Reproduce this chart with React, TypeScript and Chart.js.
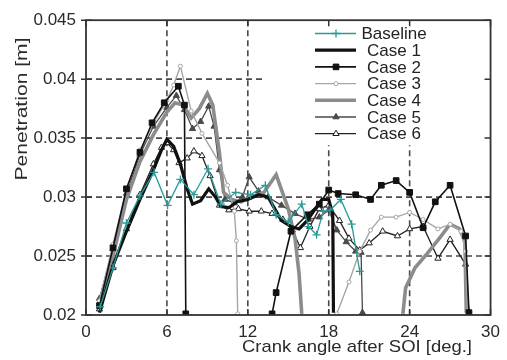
import React, { useEffect, useRef } from 'react';
import { Chart, registerables } from 'chart.js';
Chart.register(...registerables);

const FONT = '"Liberation Sans", Arial, Helvetica, sans-serif';

const seriesNames = ['Baseline', 'Case 1', 'Case 2', 'Case 3', 'Case 4', 'Case 5', 'Case 6'];
const xTickLabels = ['0', '6', '12', '18', '24', '30'];
const yTickLabels = ['0.02', '0.025', '0.03', '0.035', '0.04', '0.045'];
const xTitle = 'Crank angle after SOI [deg.]';
const yTitle = 'Penetration [m]';

const baselineX = [1.05, 2.0, 3.0, 4.0, 5.05, 6.05, 7.0, 8.0, 9.05, 10.0, 11.1, 12.2, 13.3, 14.1, 15.0, 16.0, 16.5, 17.1, 17.6, 18.1, 18.9, 19.7, 20.3];
const baselineY = [0.0207, 0.024, 0.0278, 0.0301, 0.0321, 0.0293, 0.0315, 0.0302, 0.0324, 0.0294, 0.0304, 0.0302, 0.031, 0.0285, 0.0279, 0.0294, 0.0275, 0.0268, 0.0288, 0.0289, 0.0298, 0.0277, 0.0237];

const case1X = [1.0, 1.5, 2.0, 3.0, 4.0, 5.0, 5.6, 6.0, 6.5, 7.0, 7.5, 7.9, 8.5, 9.1, 9.6, 10.0, 10.6, 11.2, 12.0, 12.8, 13.5, 14.0, 14.5, 15.2, 15.8, 16.4, 17.0, 17.5, 18.0, 18.3, 18.35];
const case1Y = [0.0202, 0.0222, 0.0242, 0.0271, 0.0298, 0.0323, 0.034, 0.0349, 0.0343, 0.0328, 0.0307, 0.0294, 0.0297, 0.0307, 0.03, 0.0292, 0.0291, 0.0296, 0.0298, 0.0302, 0.03, 0.029, 0.028, 0.0275, 0.0273, 0.028, 0.029, 0.0298, 0.0298, 0.0285, 0.0202];

const case2X = [1.0, 2.0, 3.0, 4.0, 4.9, 5.8, 6.85, 7.3, 7.4, 10.0, 13.8, 14.1, 15.2, 16.4, 17.3, 18.0, 18.7, 20.0, 21.1, 21.9, 23.0, 24.0, 25.0, 25.9, 27.0, 28.15, 28.4];
const case2Y = [0.0208, 0.0257, 0.0307, 0.0338, 0.0363, 0.038, 0.0394, 0.0378, 0.0201, null, 0.0201, 0.0219, 0.0271, 0.0285, 0.0294, 0.0306, 0.0303, 0.0302, 0.0298, 0.031, 0.0314, 0.0304, 0.0274, 0.0296, 0.031, 0.0267, 0.0202];

const case3X = [1.0, 2.0, 3.0, 4.0, 5.0, 6.0, 6.5, 7.0, 7.8, 8.6, 9.9, 10.5, 11.0, 11.15, 11.25, 15.0, 18.6, 19.5, 20.3, 21.1, 21.9, 23.0, 24.0, 25.0, 26.1, 27.0, 27.8, 28.15, 28.3];
const case3Y = [0.0212, 0.026, 0.0306, 0.034, 0.0363, 0.0382, 0.0395, 0.0411, 0.0373, 0.0354, 0.0329, 0.031, 0.0288, 0.0263, 0.0201, null, 0.0201, 0.0228, 0.0254, 0.0272, 0.0283, 0.0283, 0.0287, 0.0281, 0.0273, 0.0277, 0.0271, 0.0254, 0.0202];

const case4X = [1.0, 2.0, 3.0, 4.0, 5.0, 6.0, 6.6, 7.2, 7.8, 8.4, 9.0, 9.4, 9.9, 10.2, 10.8, 11.5, 12.2, 13.2, 14.1, 15.0, 15.5, 15.8, 16.0, 20.0, 23.5, 23.7, 24.4, 25.3, 26.2, 27.0, 27.7, 28.1, 28.2];
const case4Y = [0.021, 0.025, 0.0298, 0.033, 0.0353, 0.0372, 0.038, 0.0378, 0.0367, 0.0375, 0.0388, 0.0378, 0.0337, 0.0304, 0.0298, 0.0296, 0.03, 0.0304, 0.0319, 0.029, 0.0265, 0.0235, 0.0201, null, 0.0201, 0.0223, 0.024, 0.0252, 0.0265, 0.0277, 0.0273, 0.0262, 0.0202];

const case5X = [1.0, 2.0, 3.0, 4.0, 5.0, 6.0, 6.7, 7.3, 7.9, 8.5, 9.1, 9.5, 9.9, 10.3, 11.0, 11.6, 12.1, 12.8, 13.5, 14.5, 15.5, 16.5, 17.3, 18.0, 18.6, 19.3, 20.0, 20.4, 20.5];
const case5Y = [0.0214, 0.0256, 0.0303, 0.0336, 0.036, 0.0376, 0.0386, 0.0374, 0.0358, 0.0364, 0.0377, 0.036, 0.0323, 0.0298, 0.0295, 0.03, 0.0317, 0.0305, 0.03, 0.0293, 0.0286, 0.0281, 0.0283, 0.0289, 0.0272, 0.0262, 0.0254, 0.0253, 0.0202];

const case6X = [1.0, 2.0, 3.0, 4.0, 5.0, 5.6, 6.0, 6.5, 6.9, 7.5, 8.0, 8.6, 9.2, 9.9, 10.6, 11.3, 12.1, 13.0, 13.8, 14.6, 15.3, 15.9, 16.6, 17.3, 18.0, 18.8, 19.5, 20.3, 21.0, 22.0, 23.1, 24.0, 25.0, 26.1, 27.0, 28.15, 28.4];
const case6Y = [0.0205, 0.024, 0.0273, 0.0302, 0.0328, 0.0342, 0.0346, 0.034, 0.0329, 0.0333, 0.0339, 0.0335, 0.0318, 0.0293, 0.0289, 0.029, 0.0288, 0.0288, 0.0286, 0.0281, 0.0272, 0.0257, 0.0275, 0.029, 0.0293, 0.028, 0.0265, 0.0255, 0.0261, 0.0271, 0.0267, 0.0273, 0.0275, 0.0248, 0.0264, 0.0243, 0.0202];

const TEAL = '#2a9a98';

const mk = (xs: number[], ys: (number | null)[]) => xs.map((x, i) => ({ x, y: ys[i] }));

function drawMarker(ctx: CanvasRenderingContext2D, style: string, x: number, y: number, r: number, fill: string, stroke: string, lw: number) {
  ctx.save();
  ctx.setLineDash([]);
  ctx.lineWidth = lw;
  ctx.strokeStyle = stroke;
  ctx.fillStyle = fill;
  ctx.beginPath();
  if (style === 'cross') {
    ctx.moveTo(x - r, y); ctx.lineTo(x + r, y);
    ctx.moveTo(x, y - r); ctx.lineTo(x, y + r);
    ctx.stroke();
  } else if (style === 'rect') {
    const s = r * Math.SQRT1_2;
    ctx.rect(x - s, y - s, 2 * s, 2 * s);
    ctx.fill(); ctx.stroke();
  } else if (style === 'circle') {
    ctx.arc(x, y, r, 0, Math.PI * 2);
    ctx.fill(); ctx.stroke();
  } else if (style === 'triangle') {
    const side = (3 * r) / Math.sqrt(3);
    const h = (side * Math.sqrt(3)) / 2;
    ctx.moveTo(x - side / 2, y + h / 3);
    ctx.lineTo(x + side / 2, y + h / 3);
    ctx.lineTo(x, y - (2 * h) / 3);
    ctx.closePath();
    ctx.fill(); ctx.stroke();
  }
  ctx.restore();
}

function stretchedText(ctx: CanvasRenderingContext2D, text: string, cx: number, cy: number, targetLen: number, rotate: boolean) {
  ctx.save();
  ctx.font = `17px ${FONT}`;
  ctx.fillStyle = '#2a2a2a';
  ctx.textAlign = 'center';
  ctx.textBaseline = 'middle';
  const w = ctx.measureText(text).width;
  ctx.translate(cx, cy);
  if (rotate) ctx.rotate(-Math.PI / 2);
  ctx.scale(targetLen / w, 1);
  ctx.fillText(text, 0, 0);
  ctx.restore();
}

const overlay = {
  id: 'overlay',
  beforeDatasetsDraw(chart: any) {
    const { ctx, chartArea: a, scales } = chart;
    const xs = scales.x, ys = scales.y;
    ctx.save();
    ctx.strokeStyle = '#4a4a4a';
    ctx.lineWidth = 1.6;
    ctx.setLineDash([6, 4]);
    xs.ticks.forEach((t: any) => {
      if (t.value <= xs.min || t.value >= xs.max) return;
      const px = xs.getPixelForValue(t.value);
      ctx.beginPath(); ctx.moveTo(px, a.top); ctx.lineTo(px, a.bottom); ctx.stroke();
    });
    ys.ticks.forEach((t: any) => {
      if (t.value <= ys.min + 1e-9 || t.value >= ys.max - 1e-9) return;
      const py = ys.getPixelForValue(t.value);
      ctx.beginPath(); ctx.moveTo(a.left, py); ctx.lineTo(a.right, py); ctx.stroke();
    });
    ctx.restore();
  },
  afterDatasetsDraw(chart: any) {
    const { ctx, chartArea: a, scales } = chart;
    const xs = scales.x, ys = scales.y;
    ctx.save();
    // legend background
    ctx.fillStyle = '#ffffff';
    ctx.fillRect(264, a.top + 1, a.right - 264, 124);
    // frame
    ctx.setLineDash([]);
    ctx.strokeStyle = '#333';
    ctx.lineWidth = 1.8;
    ctx.strokeRect(a.left, a.top, a.right - a.left, a.bottom - a.top);
    // tick marks
    ctx.lineWidth = 1.5;
    xs.ticks.forEach((t: any) => {
      const px = xs.getPixelForValue(t.value);
      ctx.beginPath();
      ctx.moveTo(px, a.bottom); ctx.lineTo(px, a.bottom - 6);
      ctx.moveTo(px, a.top); ctx.lineTo(px, a.top + 6);
      ctx.stroke();
    });
    ys.ticks.forEach((t: any) => {
      const py = ys.getPixelForValue(t.value);
      ctx.beginPath();
      ctx.moveTo(a.left - 5, py); ctx.lineTo(a.left + 6, py);
      ctx.moveTo(a.right, py); ctx.lineTo(a.right - 6, py);
      ctx.stroke();
    });
    ctx.restore();
  },
  afterDraw(chart: any) {
    const { ctx } = chart;
    const ds = chart.data.datasets;
    ctx.save();
    const x0 = 315, x1 = 356, xm = 336, textX = 394;
    ds.forEach((d: any, i: number) => {
      const y = 33.5 + i * 16.7;
      ctx.save();
      ctx.strokeStyle = d.borderColor;
      ctx.lineWidth = d.borderWidth;
      ctx.setLineDash([]);
      ctx.beginPath(); ctx.moveTo(x0, y); ctx.lineTo(x1, y); ctx.stroke();
      ctx.restore();
      if (d.pointRadius > 0) {
        drawMarker(ctx, d.pointStyle, xm, y, d.pointRadius, d.pointBackgroundColor, d.pointBorderColor, d.pointBorderWidth);
      }
      ctx.font = `17px ${FONT}`;
      ctx.fillStyle = '#222';
      ctx.textAlign = 'center';
      ctx.textBaseline = 'middle';
      ctx.fillText(seriesNames[i], textX, y + 1);
    });
    ctx.restore();
    stretchedText(ctx, xTitle, 357, 347, 230, false);
    stretchedText(ctx, yTitle, 22, 109, 143, true);
  },
};

export default function App() {
  const ref = useRef<HTMLCanvasElement | null>(null);
  useEffect(() => {
    if (!ref.current) return;
    const common = { tension: 0, fill: false, spanGaps: false };
    const chart = new Chart(ref.current, {
      type: 'line',
      data: {
        datasets: [
          { ...common, label: seriesNames[0], data: mk(baselineX, baselineY), borderColor: TEAL, borderWidth: 1.3, pointStyle: 'cross', pointRadius: 4, pointBorderColor: TEAL, pointBackgroundColor: TEAL, pointBorderWidth: 1.3 },
          { ...common, label: seriesNames[1], data: mk(case1X, case1Y), borderColor: '#111', borderWidth: 3.2, pointRadius: 0 },
          { ...common, label: seriesNames[2], data: mk(case2X, case2Y), borderColor: '#111', borderWidth: 1.6, pointStyle: 'rect', pointRadius: 4, pointBorderColor: '#111', pointBackgroundColor: '#111', pointBorderWidth: 1 },
          { ...common, label: seriesNames[3], data: mk(case3X, case3Y), borderColor: '#a6a6a6', borderWidth: 1.4, pointStyle: 'circle', pointRadius: 2, pointBorderColor: '#a6a6a6', pointBackgroundColor: '#fff', pointBorderWidth: 1 },
          { ...common, label: seriesNames[4], data: mk(case4X, case4Y), borderColor: '#8c8c8c', borderWidth: 3.6, pointRadius: 0 },
          { ...common, label: seriesNames[5], data: mk(case5X, case5Y), borderColor: '#4a4a4a', borderWidth: 1.3, pointStyle: 'triangle', pointRadius: 3.6, pointBorderColor: '#4a4a4a', pointBackgroundColor: '#4a4a4a', pointBorderWidth: 1 },
          { ...common, label: seriesNames[6], data: mk(case6X, case6Y), borderColor: '#222', borderWidth: 1.3, pointStyle: 'triangle', pointRadius: 3.6, pointBorderColor: '#222', pointBackgroundColor: '#fff', pointBorderWidth: 1 },
        ] as any,
      },
      options: {
        responsive: false,
        animation: false,
        devicePixelRatio: 1,
        layout: { padding: { top: 17, right: 14, left: 0, bottom: 0 } },
        plugins: { legend: { display: false }, tooltip: { enabled: false } },
        scales: {
          x: {
            type: 'linear', min: 0, max: 30,
            grid: { display: false, drawTicks: false },
            border: { display: false },
            ticks: {
              stepSize: 6, autoSkip: false, maxRotation: 0, padding: 7,
              color: '#2a2a2a', font: { family: FONT, size: 17 },
              callback: (v: any) => xTickLabels[Math.round(Number(v) / 6)] ?? '',
            },
            afterFit: (s: any) => { s.height = 45; },
          },
          y: {
            type: 'linear', min: 0.02, max: 0.045,
            grid: { display: false, drawTicks: false },
            border: { display: false },
            ticks: {
              stepSize: 0.005, autoSkip: false, padding: 10,
              color: '#2a2a2a', font: { family: FONT, size: 17 },
              callback: (v: any) => yTickLabels[Math.round((Number(v) - 0.02) / 0.005)] ?? '',
            },
            afterFit: (s: any) => { s.width = 86; },
          },
        },
      } as any,
      plugins: [overlay],
    });
    return () => chart.destroy();
  }, []);
  return (
    <div style={{ position: 'absolute', left: 0, top: 0, width: 507, height: 360, background: '#fff' }}>
      <canvas ref={ref} width={507} height={360} style={{ display: 'block' }} />
    </div>
  );
}
